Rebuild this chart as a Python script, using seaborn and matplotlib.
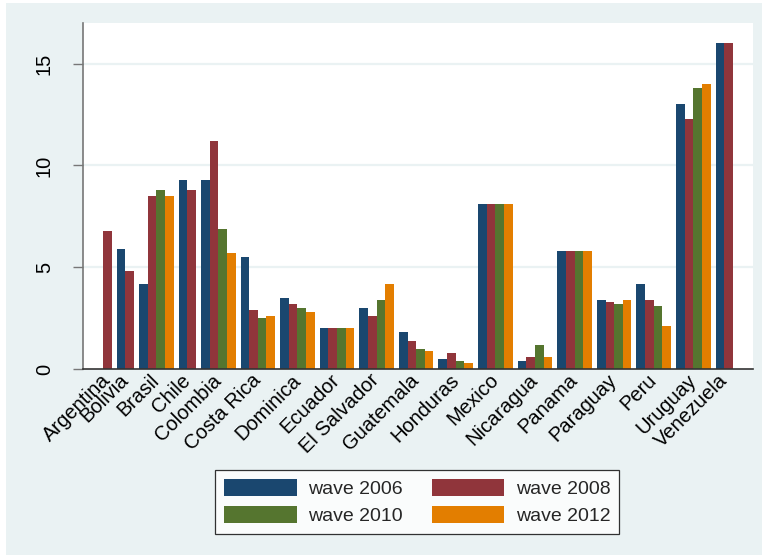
import numpy as np
import pandas as pd
import matplotlib
matplotlib.use("Agg")
import matplotlib.pyplot as plt
from matplotlib.patches import Rectangle
import seaborn as sns

nan = np.nan

countries = ["Argentina", "Bolivia", "Brasil", "Chile", "Colombia", "Costa Rica",
             "Dominica", "Ecuador", "El Salvador", "Guatemala", "Honduras", "Mexico",
             "Nicaragua", "Panama", "Paraguay", "Peru", "Uruguay", "Venezuela"]

waves = ["wave 2006", "wave 2008", "wave 2010", "wave 2012"]

wave_2006 = [nan, 5.9, 4.2, 9.3, 9.3, 5.5, 3.5, 2.0, 3.0, 1.8, 0.5, 8.1, 0.4, 5.8, 3.4, 4.2, 13.0, 16.0]
wave_2008 = [6.8, 4.8, 8.5, 8.8, 11.2, 2.9, 3.2, 2.0, 2.6, 1.4, 0.8, 8.1, 0.6, 5.8, 3.3, 3.4, 12.3, 16.0]
wave_2010 = [nan, nan, 8.8, nan, 6.9, 2.5, 3.0, 2.0, 3.4, 1.0, 0.4, 8.1, 1.2, 5.8, 3.2, 3.1, 13.8, nan]
wave_2012 = [nan, nan, 8.5, nan, 5.7, 2.6, 2.8, 2.0, 4.2, 0.9, 0.3, 8.1, 0.6, 5.8, 3.4, 2.1, 14.0, nan]

colors = ["#1A476F", "#90353B", "#55752F", "#E37E00"]

y_ticks = [0, 5, 10, 15]

# Long table; missing waves are dropped so each country's bars are packed together
series = [wave_2006, wave_2008, wave_2010, wave_2012]
rows = []
pos = 0.0
group_gap = 0.58
centers = []
for ci, country in enumerate(countries):
    group_pos = []
    for wi, wave in enumerate(waves):
        v = series[wi][ci]
        if np.isnan(v):
            continue
        rows.append({"country": country, "wave": wave, "pos": pos, "value": v})
        group_pos.append(pos)
        pos += 1.0
    centers.append(np.mean(group_pos))
    pos += group_gap
df = pd.DataFrame(rows)
df["pos"] = df["pos"].round(4)

sns.set_theme(style="white")
plt.rcParams["font.family"] = ["Liberation Sans", "DejaVu Sans"]

bg = "#EAF2F3"
fig = plt.figure(figsize=(7.63, 5.58), dpi=100)
fig.patch.set_facecolor("white")
fig.patches.append(Rectangle((6 / 763, 3 / 558), 756 / 763, 552 / 558,
                             transform=fig.transFigure, facecolor=bg,
                             edgecolor="none", zorder=-10))

ax = fig.add_axes([83 / 763, 1 - 369 / 558, 670 / 763, 346 / 558])
ax.set_facecolor("white")

sns.barplot(data=df, x="pos", y="value", hue="wave", hue_order=waves,
            palette=colors, native_scale=True, dodge=False, width=1.0,
            errorbar=None, saturation=1, linewidth=0, ax=ax)

first = df["pos"].min() - 0.5
last = df["pos"].max() + 0.5
pad = 2.32
ax.set_xlim(first - pad, last + pad)
ax.set_ylim(0, 17)

for y in y_ticks[1:]:
    ax.axhline(y, color=bg, linewidth=1.6, zorder=0)

ax.set_yticks(y_ticks)
ax.set_yticklabels([str(t) for t in y_ticks], rotation=90, va="center",
                   fontsize=14.5, color="black")
ax.tick_params(axis="y", length=7, width=1, color="#777777", pad=14, left=True)

ax.set_xticks(centers)
ax.set_xticklabels(countries, rotation=45, ha="right", va="center",
                   rotation_mode="anchor", fontsize=14.5, color="black")
ax.tick_params(axis="x", length=0, pad=6)

ax.set_xlabel("")
ax.set_ylabel("")

for side in ["top", "right"]:
    ax.spines[side].set_visible(False)
ax.spines["left"].set_color("#777777")
ax.spines["left"].set_linewidth(1.2)
ax.spines["bottom"].set_color("#333333")
ax.spines["bottom"].set_linewidth(1.2)

handles, labels = ax.get_legend_handles_labels()
if ax.get_legend() is not None:
    ax.get_legend().remove()
# two columns filled row by row: 2006 | 2008 over 2010 | 2012
order = [0, 2, 1, 3]
leg = fig.legend([handles[i] for i in order], [labels[i] for i in order],
                 ncol=2, loc="center",
                 bbox_to_anchor=(417 / 763, 1 - 502 / 558),
                 fontsize=14, handlelength=3.75, handleheight=1.0,
                 handletextpad=0.57, columnspacing=1.5, labelspacing=0.42,
                 borderpad=0.45, fancybox=False, frameon=True)
leg.get_frame().set_edgecolor("black")
leg.get_frame().set_linewidth(0.9)
leg.get_frame().set_facecolor("white")

fig.savefig("out.png", dpi=100, facecolor=fig.get_facecolor())
